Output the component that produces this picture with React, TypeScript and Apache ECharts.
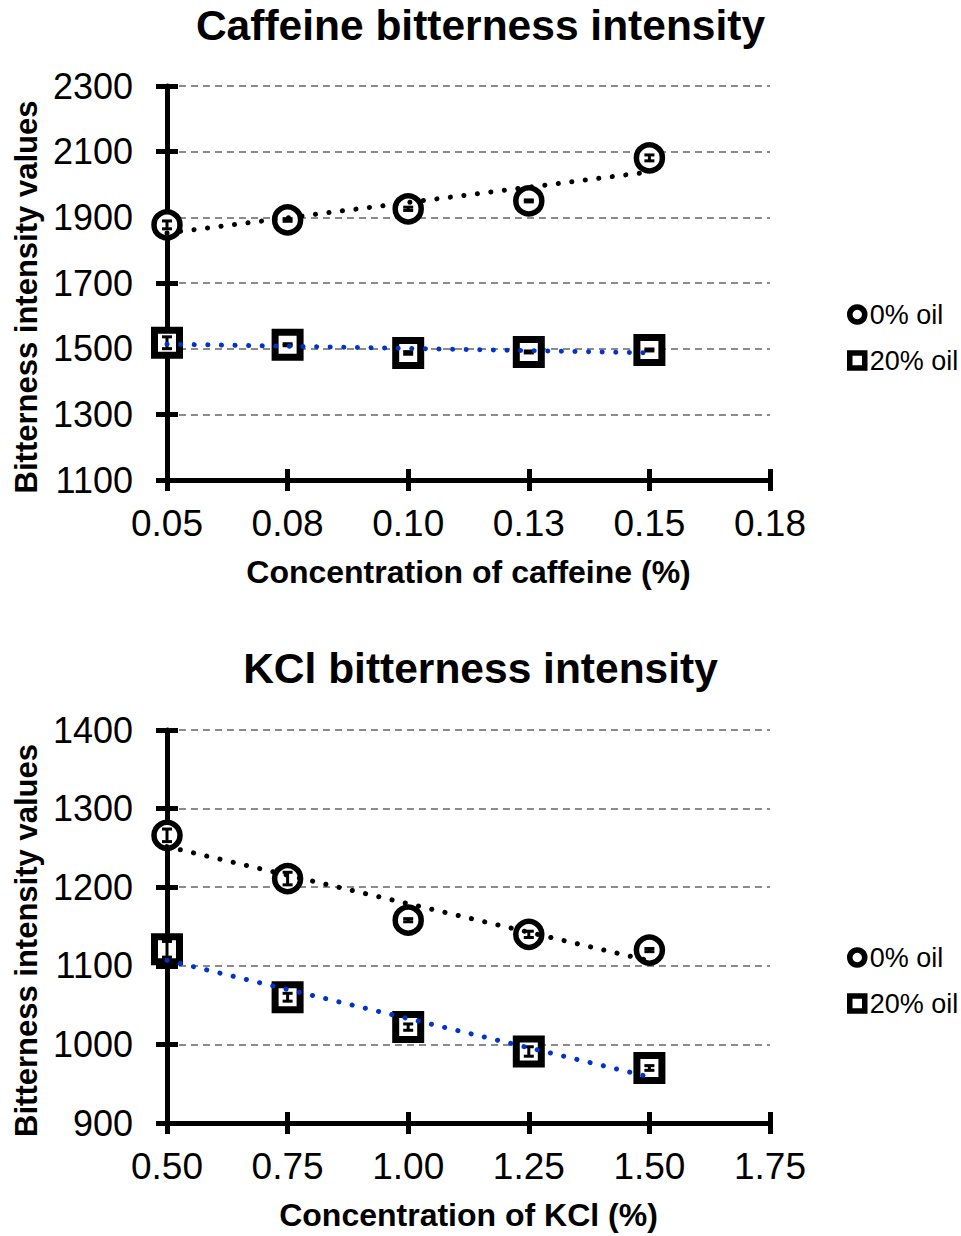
import React, { useEffect, useRef } from 'react';
import * as echarts from 'echarts';

// ---- data ----
const caffeineConc = [0.05, 0.075, 0.1, 0.125, 0.15];
const caffeineOil0 = [1877, 1892, 1926, 1950, 2081];
const caffeineOil20 = [1518, 1512, 1487, 1490, 1496];
const caffeineOil0Err = [12, 4, 5, 3, 9];
const caffeineOil20Err = [18, 3, 4, 3, 3];
const caffeineXTicks = ['0.05', '0.08', '0.10', '0.13', '0.15', '0.18'];

const kclConc = [0.5, 0.75, 1.0, 1.25, 1.5];
const kclOil0 = [1266, 1211, 1158, 1140, 1120];
const kclOil20 = [1121, 1060, 1022, 991, 970];
const kclOil0Err = [8, 8, 2, 4, 2];
const kclOil20Err = [10, 5, 4, 6, 3];
const kclXTicks = ['0.50', '0.75', '1.00', '1.25', '1.50', '1.75'];

const seriesNames = ['0% oil', '20% oil'];
const titles = ['Caffeine bitterness intensity', 'KCl bitterness intensity'];
const xNames = ['Concentration of caffeine (%)', 'Concentration of KCl (%)'];
const yName = 'Bitterness intensity values';

const FONT = "'Liberation Sans', Arial, sans-serif";
const BLUE = '#0033CC';

function linFit(xs: number[], ys: number[]) {
  const n = xs.length;
  const mx = xs.reduce((a, b) => a + b, 0) / n;
  const my = ys.reduce((a, b) => a + b, 0) / n;
  let sxy = 0, sxx = 0;
  for (let i = 0; i < n; i++) {
    sxy += (xs[i] - mx) * (ys[i] - my);
    sxx += (xs[i] - mx) * (xs[i] - mx);
  }
  const b = sxy / sxx;
  const a = my - b * mx;
  const x0 = xs[0], x1 = xs[n - 1];
  return [[x0, a + b * x0], [x1, a + b * x1]];
}

const axisLineStyle = { color: '#000', width: 5 };

function makeXAxes(gridIndex: number, min: number, max: number, interval: number, labels: string[], name: string) {
  return [
    {
      type: 'value', gridIndex, min, max, interval, position: 'bottom',
      name, nameLocation: 'middle', nameGap: 76,
      nameTextStyle: { fontSize: 32, fontWeight: 'bold', color: '#000', fontFamily: FONT },
      axisLine: { show: true, onZero: false, lineStyle: axisLineStyle },
      axisTick: { show: true, length: 11, lineStyle: axisLineStyle },
      axisLabel: {
        margin: 25, fontSize: 37, color: '#000', fontFamily: FONT,
        formatter: (v: number) => labels[Math.round((v - min) / interval)] ?? '',
      },
      splitLine: { show: false },
    },
    {
      type: 'value', gridIndex, min, max, interval, position: 'bottom',
      axisLine: { show: false, onZero: false },
      axisTick: { show: true, inside: true, length: 11, lineStyle: axisLineStyle },
      axisLabel: { show: false },
      splitLine: { show: false },
    },
  ];
}

function makeYAxes(gridIndex: number, min: number, max: number, interval: number) {
  return [
    {
      type: 'value', gridIndex, min, max, interval, position: 'left',
      name: yName, nameLocation: 'middle', nameGap: 120,
      nameTextStyle: { fontSize: 31, fontWeight: 'bold', color: '#000', fontFamily: FONT, padding: [0, 28, 0, 0] },
      axisLine: { show: true, onZero: false, lineStyle: axisLineStyle },
      axisTick: { show: true, length: 11, lineStyle: axisLineStyle },
      axisLabel: { margin: 34, fontSize: 36, color: '#000', fontFamily: FONT, formatter: (v: number) => String(v) },
      splitLine: { show: true, lineStyle: { color: '#666', width: 1.5, type: [7, 5] } },
    },
    {
      type: 'value', gridIndex, min, max, interval, position: 'left',
      axisLine: { show: false, onZero: false },
      axisTick: { show: true, inside: true, length: 11, lineStyle: axisLineStyle },
      axisLabel: { show: false },
      splitLine: { show: false },
    },
  ];
}

function errRender(params: any, api: any) {
  const x = api.value(0);
  const y = api.value(1);
  const e = api.value(2);
  const top = api.coord([x, y + e]);
  const bot = api.coord([x, y - e]);
  const w = 5;
  const style = { stroke: '#000', lineWidth: 3 };
  return {
    type: 'group',
    children: [
      { type: 'line', shape: { x1: top[0], y1: top[1], x2: bot[0], y2: bot[1] }, style },
      { type: 'line', shape: { x1: top[0] - w, y1: top[1], x2: top[0] + w, y2: top[1] }, style },
      { type: 'line', shape: { x1: bot[0] - w, y1: bot[1], x2: bot[0] + w, y2: bot[1] }, style },
    ],
  };
}

function makeSeries(axisIdx: number, xs: number[], y0: number[], y20: number[], e0: number[], e20: number[]) {
  const xi = axisIdx * 2;
  const yi = axisIdx * 2;
  const zip = (ys: number[]) => xs.map((x, i) => [x, ys[i]]);
  const zipE = (ys: number[], es: number[]) => xs.map((x, i) => [x, ys[i], es[i]]);
  return [
    {
      type: 'scatter', name: seriesNames[0], xAxisIndex: xi, yAxisIndex: yi, data: zip(y0),
      symbol: 'circle', symbolSize: 26, z: 3,
      itemStyle: { color: '#fff', borderColor: '#000', borderWidth: 5.5, opacity: 1 },
    },
    {
      type: 'scatter', name: seriesNames[1], xAxisIndex: xi, yAxisIndex: yi, data: zip(y20),
      symbol: 'rect', symbolSize: 25, z: 3,
      itemStyle: { color: '#fff', borderColor: '#000', borderWidth: 7, opacity: 1 },
    },
    {
      type: 'custom', name: 'err0', xAxisIndex: xi, yAxisIndex: yi, data: zipE(y0, e0),
      encode: { x: 0, y: 1 }, renderItem: errRender, z: 4, silent: true,
    },
    {
      type: 'custom', name: 'err20', xAxisIndex: xi, yAxisIndex: yi, data: zipE(y20, e20),
      encode: { x: 0, y: 1 }, renderItem: errRender, z: 4, silent: true,
    },
    {
      type: 'line', name: 'trend0', xAxisIndex: xi, yAxisIndex: yi, data: linFit(xs, y0),
      symbol: 'none', z: 5, silent: true,
      lineStyle: { color: '#000', width: 5, type: [0.1, 13.5], cap: 'round' },
    },
    {
      type: 'line', name: 'trend20', xAxisIndex: xi, yAxisIndex: yi, data: linFit(xs, y20),
      symbol: 'none', z: 5, silent: true,
      lineStyle: { color: BLUE, width: 5, type: [0.1, 13.5], cap: 'round' },
    },
  ];
}

function makeLegend(top: number) {
  return {
    data: seriesNames, orient: 'vertical', left: 842, top,
    itemWidth: 15, itemHeight: 15, itemGap: 19, selectedMode: false,
    textStyle: { fontSize: 27, color: '#000', fontFamily: FONT },
    itemStyle: { borderWidth: 5.5 },
  };
}

export default function App() {
  const ref = useRef<HTMLDivElement>(null);
  useEffect(() => {
    document.body.style.margin = '0';
    if (!ref.current) return;
    const chart = echarts.init(ref.current, undefined, { renderer: 'svg' });
    chart.setOption({
      animation: false,
      backgroundColor: '#fff',
      textStyle: { fontFamily: FONT },
      title: [
        { text: titles[0], left: 'center', top: 4, padding: 0, textStyle: { fontSize: 42.5, fontWeight: 'bold', color: '#000', fontFamily: FONT } },
        { text: titles[1], left: 'center', top: 647, padding: 0, textStyle: { fontSize: 42.5, fontWeight: 'bold', color: '#000', fontFamily: FONT } },
      ],
      legend: [makeLegend(296), makeLegend(939)],
      grid: [
        { left: 167, top: 86, width: 603, height: 394, containLabel: false, outerBoundsMode: 'none' },
        { left: 167, top: 730, width: 603, height: 393, containLabel: false, outerBoundsMode: 'none' },
      ],
      xAxis: [
        ...makeXAxes(0, 0.05, 0.175, 0.025, caffeineXTicks, xNames[0]),
        ...makeXAxes(1, 0.5, 1.75, 0.25, kclXTicks, xNames[1]),
      ],
      yAxis: [
        ...makeYAxes(0, 1100, 2300, 200),
        ...makeYAxes(1, 900, 1400, 100),
      ],
      series: [
        ...makeSeries(0, caffeineConc, caffeineOil0, caffeineOil20, caffeineOil0Err, caffeineOil20Err),
        ...makeSeries(1, kclConc, kclOil0, kclOil20, kclOil0Err, kclOil20Err),
      ],
    });
    return () => chart.dispose();
  }, []);
  return <div ref={ref} style={{ width: 961, height: 1236 }} />;
}
